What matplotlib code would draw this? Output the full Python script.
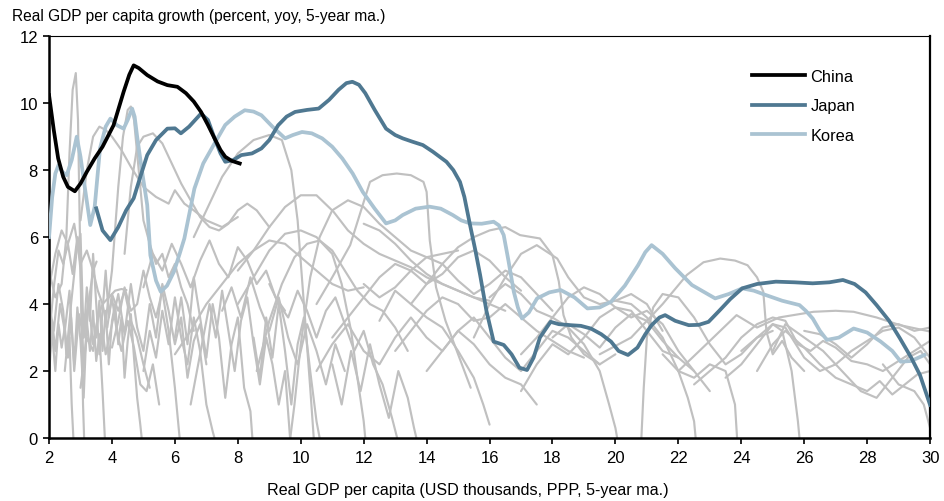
import matplotlib
matplotlib.use("Agg")
import matplotlib.pyplot as plt

plt.rcParams['font.family'] = ['Liberation Sans', 'DejaVu Sans']

# ---------------- data ----------------
china_x = [2.0, 2.15, 2.29, 2.45, 2.6, 2.82, 3.0, 3.2, 3.45, 3.7, 4.05, 4.37, 4.55, 4.69, 4.85, 5.12, 5.45,
           5.76, 6.08, 6.35, 6.6, 6.83, 7.05, 7.26, 7.45, 7.6, 7.8, 8.06]
china_y = [10.24, 9.2, 8.35, 7.8, 7.5, 7.37, 7.6, 7.95, 8.35, 8.7, 9.34, 10.34, 10.85, 11.13, 11.05, 10.84, 10.65,
           10.54, 10.49, 10.3, 10.05, 9.74, 9.35, 8.95, 8.6, 8.4, 8.28, 8.2]

japan_x = [3.5, 3.7, 3.95, 4.2, 4.45, 4.69, 4.9, 5.12, 5.4, 5.76, 6.0, 6.19, 6.45, 6.83, 7.05, 7.26, 7.45, 7.6,
           7.85, 8.11, 8.45, 8.75, 9.0, 9.28, 9.55, 9.82, 10.2, 10.57, 10.9, 11.2, 11.45, 11.64, 11.85, 12.05,
           12.35, 12.71, 13.0, 13.24, 13.55, 13.88, 14.2, 14.63, 14.85, 15.06, 15.2, 15.38, 15.55, 15.7, 15.9,
           16.13, 16.45, 16.7, 16.95, 17.19, 17.4, 17.6, 17.94, 18.2, 18.58, 18.9, 19.22, 19.55, 19.86, 20.1,
           20.4, 20.7, 20.95, 21.15, 21.4, 21.58, 21.9, 22.33, 22.65, 22.96, 23.3, 23.65, 24.03, 24.5, 25.1,
           25.7, 26.27, 26.8, 27.23, 27.6, 27.95, 28.3, 28.7, 29.04, 29.4, 29.68, 30.0]
japan_y = [6.86, 6.2, 5.91, 6.3, 6.8, 7.16, 7.8, 8.45, 8.9, 9.24, 9.25, 9.1, 9.3, 9.69, 9.5, 8.95, 8.5, 8.25,
           8.3, 8.45, 8.5, 8.65, 8.9, 9.34, 9.6, 9.74, 9.8, 9.84, 10.1, 10.4, 10.6, 10.64, 10.55, 10.3,
           9.8, 9.24, 9.05, 8.95, 8.85, 8.75, 8.55, 8.25, 8.0, 7.65, 7.2, 6.36, 5.6, 4.87, 3.8,
           2.88, 2.78, 2.5, 2.1, 2.03, 2.4, 3.0, 3.47, 3.4, 3.37, 3.35, 3.27, 3.1, 2.88, 2.6,
           2.48, 2.7, 3.1, 3.37, 3.6, 3.67, 3.5, 3.37, 3.38, 3.47, 3.8, 4.15, 4.47, 4.6, 4.67,
           4.65, 4.62, 4.65, 4.72, 4.6, 4.35, 3.97, 3.5, 2.98, 2.4, 1.88, 0.99]

korea_x = [2.0, 2.1, 2.2, 2.3, 2.42, 2.56, 2.72, 2.88, 3.0, 3.15, 3.31, 3.45, 3.62, 3.8, 3.95, 4.16, 4.37, 4.5,
           4.64, 4.72, 4.8, 4.95, 5.12, 5.22, 5.4, 5.55, 5.75, 5.97, 6.15, 6.3, 6.62, 6.9, 7.26, 7.6, 7.9,
           8.22, 8.5, 8.75, 9.1, 9.5, 9.75, 10.04, 10.35, 10.68, 11.0, 11.32, 11.65, 11.97, 12.35, 12.71,
           13.0, 13.24, 13.65, 14.09, 14.45, 14.83, 15.1, 15.38, 15.75, 16.13, 16.3, 16.45, 16.6, 16.77,
           16.9, 17.03, 17.25, 17.51, 17.9, 18.26, 18.7, 19.11, 19.5, 19.86, 20.3, 20.72, 20.95, 21.15,
           21.5, 21.9, 22.43, 23.17, 23.6, 24.03, 24.4, 24.78, 25.3, 25.85, 26.05, 26.27, 26.5, 26.72,
           27.1, 27.57, 28.0, 28.43, 28.8, 29.07, 29.4, 29.82]
korea_y = [6.0, 7.2, 7.9, 8.15, 7.95, 7.85, 8.3, 9.0, 8.4, 7.4, 6.36, 6.9, 8.65, 9.3, 9.54, 9.34, 9.24, 9.5,
           9.84, 9.6, 9.0, 8.0, 6.96, 5.46, 4.7, 4.37, 4.55, 4.97, 5.5, 5.96, 7.45, 8.2, 8.8, 9.35, 9.6,
           9.79, 9.75, 9.64, 9.3, 8.95, 9.05, 9.14, 9.1, 8.95, 8.7, 8.35, 7.9, 7.35, 6.85, 6.41,
           6.5, 6.66, 6.85, 6.91, 6.85, 6.66, 6.5, 6.41, 6.4, 6.46, 6.35, 6.06, 5.3, 4.37,
           3.9, 3.57, 3.75, 4.17, 4.35, 4.42, 4.2, 3.87, 3.9, 4.07, 4.55, 5.16, 5.55, 5.76,
           5.5, 5.07, 4.57, 4.17, 4.3, 4.47, 4.4, 4.27, 4.1, 3.97, 3.8, 3.57, 3.2, 2.93,
           3.0, 3.27, 3.15, 2.88, 2.6, 2.28, 2.3, 2.48]

# other economies (grey)
g01_x = [2.0, 2.2, 2.4, 2.55, 2.65, 2.75, 2.85, 2.92, 3.0, 3.08, 3.15]
g01_y = [5.0, 4.2, 4.6, 6.0, 8.5, 10.4, 10.9, 9.5, 5.0, 1.0, -1.0]
g02_x = [2.0, 2.1, 2.2, 2.3, 2.4, 2.5, 2.6, 2.7, 2.8, 2.9, 3.0, 3.1, 3.2, 3.3, 3.4, 3.5, 3.6, 3.7, 3.8]
g02_y = [2.3, 3.1, 2.0, 3.4, 2.7, 3.3, 2.4, 3.6, 2.2, 3.9, 2.9, 1.2, 3.5, 2.6, 3.8, 2.3, 3.1, 1.4, -0.5]
g03_x = [2.0, 2.15, 2.3, 2.45, 2.6, 2.75, 2.9, 3.0, 3.1, 3.25, 3.4, 3.55, 3.7, 3.9, 4.1, 4.3, 4.46]
g03_y = [3.0, 4.5, 5.6, 5.2, 5.8, 4.9, 6.0, 5.0, 2.0, 4.0, 5.0, 4.4, 4.0, 4.2, 4.4, 4.45, 4.42]
g04_x = [2.0, 2.2, 2.4, 2.6, 2.8, 3.0, 3.2, 3.4, 3.51]
g04_y = [4.5, 5.5, 6.2, 5.8, 6.4, 5.2, 5.6, 5.0, 5.27]
g05_x = [3.8, 4.0, 4.2, 4.35, 4.5, 4.6, 4.7, 4.85, 5.0, 5.2, 5.4, 5.6, 5.8, 6.0, 6.2, 6.4, 6.6]
g05_y = [3.5, 5.0, 7.5, 9.0, 9.8, 9.9, 9.5, 8.0, 6.5, 5.8, 5.2, 5.5, 4.8, 5.2, 4.5, 4.0, 3.2]
g06_x = [3.0, 3.2, 3.4, 3.6, 3.8, 4.0, 4.3, 4.6, 5.0, 5.4, 5.8, 6.0, 6.3, 6.6, 7.0, 7.5, 8.0]
g06_y = [6.5, 8.0, 9.0, 9.3, 9.2, 9.0, 8.6, 8.1, 7.5, 7.2, 7.0, 7.4, 7.0, 6.8, 6.5, 6.3, 6.6]
g07_x = [4.4, 4.6, 4.8, 5.0, 5.3, 5.6, 5.9, 6.2, 6.5, 6.8, 7.1, 7.4, 7.7, 8.0, 8.3, 8.6, 9.0]
g07_y = [5.5, 7.5, 8.7, 9.0, 9.1, 8.8, 8.2, 7.6, 7.1, 6.6, 6.3, 6.2, 6.4, 6.8, 7.0, 6.8, 6.3]
g08_x = [6.6, 7.0, 7.5, 8.0, 8.5, 9.0, 9.4, 9.7, 9.9, 10.1, 10.3, 10.45]
g08_y = [6.0, 6.8, 7.8, 8.5, 8.9, 9.05, 8.9, 8.0, 6.5, 4.0, 1.5, -0.5]
g09_x = [2.0, 2.1, 2.2, 2.35, 2.5, 2.65, 2.8, 2.95, 3.1, 3.25, 3.4, 3.55, 3.7, 3.85, 4.0, 4.2, 4.4, 4.6, 4.8,
         5.0, 5.2]
g09_y = [1.8, 3.5, 2.6, 4.0, 3.2, 4.4, 2.0, 3.7, 3.0, 4.1, 2.8, 3.6, 4.0, 3.3, 4.3, 3.8, 4.4, 3.5, 3.0,
         2.2, 1.5]
g10_x = [2.0, 2.15, 2.3, 2.45, 2.55, 2.65, 2.72, 2.8]
g10_y = [4.0, 3.2, 4.6, 3.8, 2.5, 3.0, 1.0, -0.5]
g11_x = [2.5, 2.7, 2.9, 3.0, 3.1, 3.2, 3.3, 3.4, 3.5, 3.6, 3.7, 3.8, 3.9, 4.0, 4.15, 4.3, 4.5, 4.7, 4.9,
         5.1, 5.3, 5.5]
g11_y = [2.0, 4.0, 5.8, 6.1, 3.0, 4.5, 3.5, 5.5, 4.0, 2.5, 3.8, 5.0, 3.6, 4.2, 3.2, 2.6, 3.5, 2.7, 1.6,
         1.4, 2.2, 1.0]
g12_x = [3.0, 3.2, 3.4, 3.6, 3.8, 4.0, 4.2, 4.4, 4.6, 4.8, 5.0, 5.2, 5.4, 5.6, 5.8, 6.0, 6.2, 6.4, 6.6,
         6.8, 7.0]
g12_y = [1.5, 3.0, 2.6, 3.9, 2.5, 3.4, 4.3, 3.1, 4.6, 3.3, 2.6, 4.0, 3.0, 4.6, 3.8, 2.8, 3.6, 1.8, 2.9,
         3.4, 2.2]
g13_x = [4.0, 4.2, 4.4, 4.6, 4.8, 5.0, 5.2, 5.4, 5.6, 5.8, 6.0, 6.1, 6.2]
g13_y = [2.7, 3.5, 4.5, 3.8, 4.0, 5.0, 4.2, 3.6, 4.4, 3.2, 1.5, 0.5, -0.5]
g14_x = [5.0, 5.3, 5.6, 5.9, 6.2, 6.5, 6.8, 7.1, 7.4, 7.7, 8.0, 8.3, 8.6, 8.9, 9.2, 9.5]
g14_y = [4.5, 5.5, 5.0, 5.8, 5.2, 4.5, 5.3, 5.9, 5.2, 4.8, 5.7, 5.3, 4.6, 5.0, 4.2, 3.8]
g15_x = [6.0, 6.2, 6.4, 6.6, 6.8, 7.0, 7.2, 7.4, 7.6, 7.8, 8.0, 8.2, 8.4, 8.5]
g15_y = [3.0, 4.2, 2.8, 4.8, 3.6, 2.4, 4.0, 3.0, 1.2, 2.8, 3.6, 1.5, 0.8, -0.5]
g16_x = [6.5, 6.8, 7.1, 7.3, 7.5, 7.7, 7.9, 8.1, 8.3, 8.5, 8.7, 8.9, 9.1, 9.3, 9.5, 9.7]
g16_y = [1.0, 2.5, 4.0, 3.0, 4.4, 3.2, 2.0, 3.5, 4.2, 2.8, 1.6, 3.0, 2.2, 1.0, 2.0, -0.5]
g17_x = [7.5, 7.8, 8.1, 8.4, 8.7, 9.0, 9.3, 9.6, 9.9, 10.2, 10.5, 10.8, 11.1, 11.4]
g17_y = [3.8, 4.5, 3.6, 4.8, 3.9, 3.2, 4.2, 3.0, 2.2, 3.4, 2.6, 1.6, 2.8, 2.0]
g18_x = [8.0, 8.5, 9.0, 9.5, 10.0, 10.5, 11.0, 11.3, 11.6, 11.8, 12.0, 12.1]
g18_y = [4.0, 4.8, 5.6, 6.1, 6.2, 6.0, 5.5, 4.6, 3.2, 1.8, 0.5, -0.5]
g19_x = [8.6, 9.0, 9.4, 9.8, 10.2, 10.6, 11.0, 11.4, 11.8, 12.2, 12.6, 13.0, 13.4]
g19_y = [2.0, 3.5, 4.6, 5.4, 5.8, 5.9, 5.6, 5.0, 4.4, 4.0, 3.8, 3.3, 2.6]
g20_x = [9.6, 9.8, 10.0, 10.3, 10.6, 11.0, 11.5, 12.0, 12.5, 13.0, 13.5, 14.0, 14.5, 15.0]
g20_y = [-0.5, 1.0, 2.8, 4.8, 6.0, 6.8, 7.1, 6.9, 6.4, 6.0, 5.6, 5.4, 5.5, 5.6]
g21_x = [10.5, 11.0, 11.57, 12.2, 12.6, 13.05, 13.5, 13.9, 14.0, 14.1, 14.3, 14.6, 15.0, 15.4]
g21_y = [4.0, 4.8, 5.76, 7.65, 7.85, 7.9, 7.85, 7.65, 7.35, 5.9, 4.5, 3.5, 2.5, 1.5]
g22_x = [8.0, 8.5, 9.0, 9.5, 10.0, 10.5, 11.04, 11.5, 12.0, 12.5, 13.0, 13.5, 14.0, 14.5, 15.0, 15.5, 16.0]
g22_y = [5.0, 5.6, 6.3, 6.9, 7.25, 7.25, 6.76, 6.2, 5.8, 5.5, 5.3, 5.1, 4.8, 4.6, 4.4, 4.2, 4.1]
g23_x = [13.5, 14.0, 14.5, 15.0, 15.5, 16.0, 16.5, 16.97, 17.6, 18.0, 18.2, 18.35, 18.6, 19.0, 19.5]
g23_y = [4.0, 4.6, 5.2, 5.7, 6.0, 6.2, 6.3, 6.06, 5.96, 5.46, 4.68, 3.67, 3.0, 2.5, 2.2]
g24_x = [11.0, 11.5, 12.0, 12.5, 13.0, 13.5, 14.0, 14.5, 15.0, 15.5, 16.0, 16.5, 17.0]
g24_y = [3.0, 3.6, 4.2, 4.8, 5.2, 5.0, 4.6, 4.9, 5.4, 5.6, 5.3, 4.8, 4.4]
g25_x = [10.5, 11.0, 11.5, 12.0, 12.5, 13.0, 13.5, 14.0, 14.5, 15.0, 15.5, 16.0, 16.5, 17.0, 17.5]
g25_y = [2.0, 2.8, 3.4, 2.6, 2.2, 3.0, 3.6, 3.0, 2.6, 3.2, 2.8, 2.2, 1.8, 1.6, 1.0]
g26_x = [11.0, 11.3, 11.6, 11.9, 12.2, 12.5, 12.8, 13.1, 13.4, 13.6, 13.8]
g26_y = [2.2, 1.0, 2.6, 1.4, 2.8, 1.6, 0.6, 2.0, 1.2, 0.3, -0.5]
g27_x = [12.5, 13.0, 13.5, 14.0, 14.5, 15.0, 15.5, 15.8, 16.0]
g27_y = [3.5, 4.4, 4.0, 3.6, 3.3, 2.6, 1.8, 1.0, 0.4]
g28_x = [15.5, 16.0, 16.5, 17.0, 17.5, 18.15, 18.5, 19.0, 19.5, 20.0, 20.5, 21.0, 21.5]
g28_y = [3.0, 4.0, 4.8, 5.5, 5.76, 5.36, 4.8, 4.2, 4.0, 4.1, 4.3, 4.0, 3.2]
g29_x = [16.0, 16.5, 17.0, 17.5, 18.0, 18.5, 19.0, 19.5, 20.0, 20.5, 21.0, 21.5, 22.0, 22.5]
g29_y = [4.2, 4.6, 4.3, 3.8, 3.6, 4.2, 4.5, 4.3, 3.9, 3.6, 3.8, 3.4, 2.6, 2.0]
g30_x = [17.0, 17.5, 18.0, 18.5, 19.0, 19.5, 19.8, 20.0, 20.15]
g30_y = [2.5, 3.0, 3.6, 3.3, 2.8, 2.0, 1.0, 0.3, -0.5]
g31_x = [20.8, 20.9, 21.0, 21.2, 21.5, 22.0, 22.5, 23.0, 23.5, 24.0, 24.5, 25.0]
g31_y = [-0.5, 1.5, 3.0, 3.9, 4.3, 4.2, 3.6, 2.8, 2.2, 2.5, 3.0, 3.2]
g32_x = [19.5, 20.5, 21.5, 22.27, 22.8, 23.33, 23.8, 24.2, 24.5, 24.7, 24.8, 25.0, 25.3, 25.6, 26.0]
g32_y = [2.5, 3.0, 4.0, 4.87, 5.25, 5.36, 5.3, 5.16, 4.8, 4.37, 3.18, 2.5, 2.9, 2.4, 2.0]
g33_x = [20.0, 20.5, 21.0, 21.5, 22.0, 22.3, 22.5, 22.6]
g33_y = [4.1, 4.0, 3.6, 3.0, 2.0, 1.2, 0.5, -0.5]
g34_x = [21.5, 22.0, 22.5, 23.0, 23.5, 23.8, 23.9]
g34_y = [2.5, 2.0, 1.8, 2.2, 2.0, 1.0, -0.5]
g35_x = [22.0, 23.0, 23.85, 24.5, 25.2, 26.3, 27.0, 27.57, 28.3, 29.05, 30.0]
g35_y = [2.0, 2.9, 3.67, 3.3, 3.6, 3.77, 3.8, 3.77, 3.6, 3.37, 3.18]
g36_x = [22.5, 23.0, 23.5, 24.0, 24.5, 25.0, 25.4, 25.8, 26.2, 26.6, 27.0, 27.5, 28.0, 28.5, 29.0, 29.5, 30.0]
g36_y = [1.6, 2.0, 2.4, 3.0, 3.4, 3.6, 3.5, 2.8, 2.6, 2.9, 2.7, 2.3, 2.2, 2.0, 2.3, 2.6, 2.9]
g37_x = [24.0, 24.5, 25.0, 25.3, 25.6, 25.8, 25.9]
g37_y = [2.6, 3.0, 3.4, 3.2, 2.0, 0.5, -0.5]
g38_x = [23.5, 24.0, 24.5, 25.0, 25.4, 26.0, 26.5, 27.0, 27.5, 28.0, 28.5, 29.0, 29.5, 30.0]
g38_y = [1.8, 2.2, 2.8, 3.4, 3.3, 2.4, 2.0, 2.2, 2.6, 2.9, 3.2, 3.3, 3.0, 2.4]
g39_x = [24.5, 25.0, 25.4, 26.0, 26.5, 27.0, 27.5, 28.0, 28.4, 28.8, 29.2, 29.6, 30.0]
g39_y = [2.0, 2.8, 3.2, 2.7, 2.2, 1.8, 1.6, 1.4, 1.7, 1.3, 1.6, 1.9, 2.0]
g40_x = [25.0, 25.4, 26.0, 26.6, 27.2, 27.8, 28.3, 28.8, 29.3, 29.7, 30.0]
g40_y = [2.6, 3.4, 3.0, 2.6, 2.0, 1.4, 1.2, 1.8, 2.4, 2.6, 2.2]
g41_x = [26.0, 26.5, 27.0, 27.5, 28.0, 28.5, 29.0, 29.5, 30.0]
g41_y = [3.2, 3.1, 2.8, 2.4, 2.8, 3.3, 3.4, 3.2, 3.3]
g42_x = [28.5, 29.0, 29.5, 29.8, 30.0]
g42_y = [2.2, 1.6, 1.4, 1.0, 0.3]
g43_x = [18.0, 18.5, 19.0, 19.5, 20.0, 20.5, 21.0, 21.5, 22.0, 22.5, 23.0]
g43_y = [3.0, 3.4, 3.1, 2.7, 3.3, 3.7, 3.5, 2.9, 2.4, 2.0, 1.4]
g44_x = [14.0, 14.5, 15.0, 15.5, 16.0, 16.5, 17.0, 17.5, 18.0, 18.5, 19.0, 19.5, 20.0]
g44_y = [2.0, 2.6, 3.2, 3.6, 3.0, 2.4, 2.0, 2.6, 3.2, 3.0, 2.6, 2.2, 2.5]
g45_x = [17.0, 17.5, 18.0, 18.5, 19.0, 19.5, 20.0, 20.5, 21.0, 21.5, 22.0]
g45_y = [1.4, 2.2, 2.8, 2.5, 3.0, 3.6, 3.9, 3.8, 3.2, 2.6, 2.4]
g46_x = [12.0, 12.5, 13.0, 13.5, 14.0, 14.5, 15.0, 15.5, 16.0, 16.5]
g46_y = [6.4, 6.2, 5.8, 5.3, 4.9, 4.6, 4.4, 4.2, 4.0, 3.8]
g47_x = [8.5, 8.7, 8.9, 9.1, 9.3, 9.5, 9.7, 9.9, 10.1, 10.3, 10.5, 10.7]
g47_y = [3.0, 1.8, 3.6, 2.4, 4.0, 2.6, 1.0, 2.8, 3.6, 2.0, 0.5, -0.5]
g48_x = [9.0, 9.3, 9.6, 9.9, 10.2, 10.5, 10.8, 11.1, 11.4, 11.7, 12.0, 12.3, 12.6, 12.9, 13.2]
g48_y = [4.6, 4.0, 3.6, 4.4, 3.8, 3.0, 3.8, 4.2, 3.4, 2.6, 3.2, 2.2, 1.6, 0.6, -0.5]
g49_x = [6.0, 6.5, 7.0, 7.5, 8.0, 8.5, 9.0, 9.5, 10.0, 10.5, 11.0, 11.5, 12.0]
g49_y = [2.5, 3.2, 4.0, 4.6, 5.2, 5.6, 5.9, 5.8, 5.4, 5.0, 4.6, 4.4, 4.5]
g50_x = [12.0, 12.5, 13.0, 13.5, 14.0, 14.5, 15.0, 15.5, 16.0, 16.5, 17.0, 17.5, 18.0]
g50_y = [4.6, 4.2, 4.5, 5.0, 5.4, 5.2, 4.7, 4.3, 4.6, 5.0, 4.8, 4.3, 3.8]
g51_x = [13.0, 13.5, 14.0, 14.5, 15.0, 15.5, 16.0, 16.5, 17.0, 17.5, 18.0, 18.5, 19.0]
g51_y = [2.6, 3.2, 3.8, 4.2, 4.0, 3.5, 3.6, 4.0, 3.6, 3.2, 2.9, 2.6, 2.4]
g52_x = [3.5, 3.6, 3.7, 3.8, 3.9, 4.0, 4.1, 4.2, 4.3, 4.4, 4.5, 4.6, 4.7, 4.8, 4.9, 5.0]
g52_y = [3.0, 4.1, 2.6, 3.8, 2.2, 3.5, 4.0, 2.8, 3.6, 1.8, 2.9, 3.7, 2.4, 1.2, 0.4, -0.5]
g53_x = [5.0, 5.2, 5.4, 5.6, 5.8, 6.0, 6.2, 6.4, 6.6, 6.8, 7.0, 7.2, 7.4]
g53_y = [2.0, 3.2, 2.4, 3.8, 2.8, 4.2, 3.0, 2.2, 3.6, 2.6, 1.0, 0.2, -0.5]

grey_series = [
    (g01_x, g01_y), (g02_x, g02_y), (g03_x, g03_y), (g04_x, g04_y), (g05_x, g05_y), (g06_x, g06_y),
    (g07_x, g07_y), (g08_x, g08_y), (g09_x, g09_y), (g10_x, g10_y), (g11_x, g11_y), (g12_x, g12_y),
    (g13_x, g13_y), (g14_x, g14_y), (g15_x, g15_y), (g16_x, g16_y), (g17_x, g17_y), (g18_x, g18_y),
    (g19_x, g19_y), (g20_x, g20_y), (g21_x, g21_y), (g22_x, g22_y), (g23_x, g23_y), (g24_x, g24_y),
    (g25_x, g25_y), (g26_x, g26_y), (g27_x, g27_y), (g28_x, g28_y), (g29_x, g29_y), (g30_x, g30_y),
    (g31_x, g31_y), (g32_x, g32_y), (g33_x, g33_y), (g34_x, g34_y), (g35_x, g35_y), (g36_x, g36_y),
    (g37_x, g37_y), (g38_x, g38_y), (g39_x, g39_y), (g40_x, g40_y), (g41_x, g41_y), (g42_x, g42_y),
    (g43_x, g43_y), (g44_x, g44_y), (g45_x, g45_y), (g46_x, g46_y), (g47_x, g47_y), (g48_x, g48_y),
    (g49_x, g49_y), (g50_x, g50_y), (g51_x, g51_y), (g52_x, g52_y), (g53_x, g53_y),
]

x_ticks = [2, 4, 6, 8, 10, 12, 14, 16, 18, 20, 22, 24, 26, 28, 30]
y_ticks = [0, 2, 4, 6, 8, 10, 12]

# ---------------- figure ----------------
fig = plt.figure(figsize=(9.45, 5.02), dpi=100)
ax = fig.add_axes([0.0519, 0.1255, 0.9323, 0.8003])

for gx, gy in grey_series:
    ax.plot(gx, gy, color='#c0c0c0', lw=1.55, solid_joinstyle='round', solid_capstyle='round', zorder=1)

ax.plot(korea_x, korea_y, color='#aac3d2', lw=2.7, solid_joinstyle='round', label='Korea', zorder=3)
ax.plot(japan_x, japan_y, color='#4f7891', lw=2.7, solid_joinstyle='round', label='Japan', zorder=4)
ax.plot(china_x, china_y, color='#000000', lw=2.7, solid_joinstyle='round', label='China', zorder=5)

ax.set_xlim(2, 30)
ax.set_ylim(0, 12)
ax.set_xticks(x_ticks)
ax.set_yticks(y_ticks)
ax.tick_params(axis='both', labelsize=12, length=4, width=1.2, direction='out', color='black')
ax.tick_params(axis='x', pad=5)
ax.tick_params(axis='y', pad=4)

for side in ['left', 'bottom']:
    ax.spines[side].set_linewidth(1.8)
ax.spines['right'].set_linewidth(1.6)
ax.spines['top'].set_linewidth(0.8)

handles, labels = ax.get_legend_handles_labels()
order = [2, 1, 0]
ax.legend([handles[i] for i in order], [labels[i] for i in order],
          loc='upper left', bbox_to_anchor=(0.789, 0.94), frameon=False,
          fontsize=11.8, handlelength=3.2, handletextpad=0.35, labelspacing=0.9, borderpad=0)

fig.text(0.0127, 0.968, 'Real GDP per capita growth (percent, yoy, 5-year ma.)', fontsize=11.2,
         ha='left', va='center')
fig.text(0.4947, 0.022, 'Real GDP per capita (USD thousands, PPP, 5-year ma.)', fontsize=11.6,
         ha='center', va='center')

fig.savefig('out.png', dpi=100)
